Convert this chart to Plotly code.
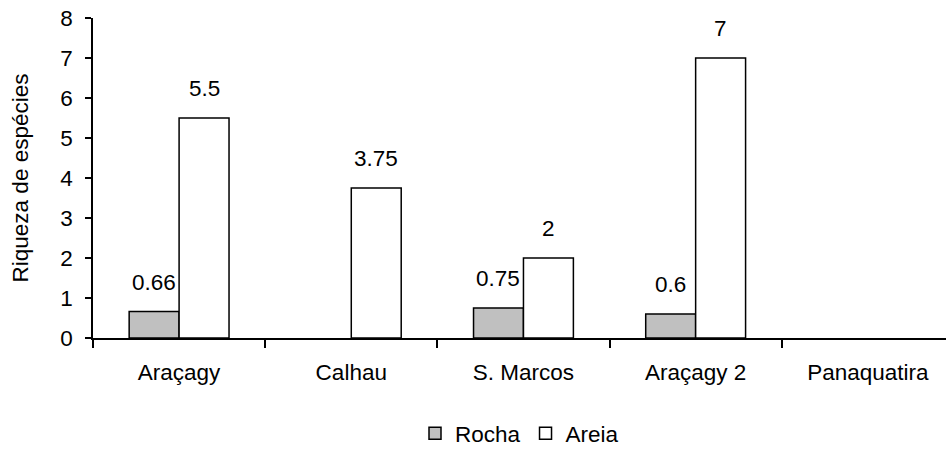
import plotly.graph_objects as go

categories = ["Araçagy", "Calhau", "S. Marcos", "Araçagy 2", "Panaquatira"]
rocha = [0.66, None, 0.75, 0.6, None]
areia = [5.5, 3.75, 2, 7, None]
y_ticks = [0, 1, 2, 3, 4, 5, 6, 7, 8]

FONT = "Liberation Sans, Arial, sans-serif"
FS = 22.5

fig = go.Figure()
fig.add_trace(go.Bar(name="Rocha", x=categories, y=rocha,
                     marker=dict(color="#C0C0C0", line=dict(color="black", width=1.5))))
fig.add_trace(go.Bar(name="Areia", x=categories, y=areia,
                     marker=dict(color="white", line=dict(color="black", width=1.5))))

annos = []
for vals, xs in ((rocha, -25), (areia, 25)):
    for c, v in zip(categories, vals):
        if v is None:
            continue
        annos.append(dict(x=c, y=v, xref="x", yref="y", text=f"{v:g}", showarrow=False,
                          xshift=xs, yshift=15, yanchor="bottom",
                          font=dict(family=FONT, size=FS, color="black")))

fig.update_layout(
    width=946, height=455,
    margin=dict(l=93, r=0, t=18, b=117),
    paper_bgcolor="white", plot_bgcolor="white",
    barmode="group", bargap=0.42, bargroupgap=0,
    font=dict(family=FONT, size=FS, color="black"),
    annotations=annos,
    showlegend=True,
    legend=dict(orientation="h", x=0.5, xanchor="center",
                yref="container", y=-0.012, yanchor="bottom",
                font=dict(family=FONT, size=FS, color="black"), itemwidth=30,
                traceorder="normal"),
    xaxis=dict(type="category", range=[-0.5, 4.454], tickson="boundaries",
               showline=True, linecolor="black", linewidth=1.5,
               ticks="outside", ticklen=8, tickcolor="black", tickwidth=1.5,
               ticklabelstandoff=13, showgrid=False, zeroline=False),
    yaxis=dict(range=[0, 8], tickvals=y_ticks, ticktext=[str(t) for t in y_ticks],
               showline=True, linecolor="black", linewidth=1.5,
               ticks="outside", ticklen=6, tickcolor="black", tickwidth=1.5,
               ticklabelstandoff=8, ticklabeloverflow="allow",
               showgrid=False, zeroline=False, automargin=False,
               title=dict(text="Riqueza de espécies", standoff=25,
                          font=dict(family=FONT, size=FS))),
)

fig.write_html("out.html", config={"displayModeBar": False},
               post_script="document.body.style.margin='0';")
